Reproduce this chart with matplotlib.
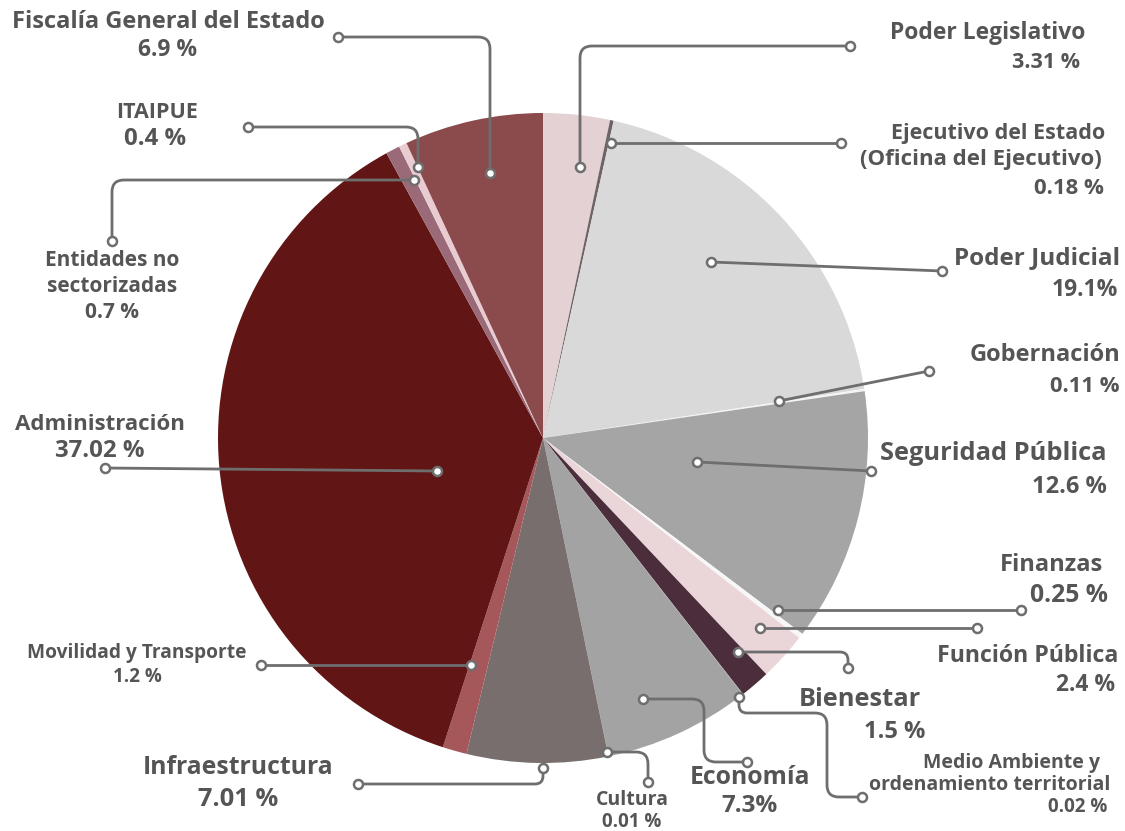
import matplotlib.pyplot as plt
from matplotlib.path import Path
from matplotlib.patches import PathPatch

# budget share by area (%), clockwise from the top
areas = ["Poder Legislativo", "Ejecutivo del Estado", "Poder Judicial", "Gobernación",
         "Seguridad Pública", "Finanzas", "Función Pública", "Bienestar",
         "Medio Ambiente", "Economía", "Cultura", "Infraestructura",
         "Movilidad y Transporte", "Administración", "Entidades no sectorizadas",
         "ITAIPUE", "Fiscalía General del Estado"]
shares = [3.31, 0.18, 19.1, 0.11, 12.6, 0.25, 2.4, 1.5, 0.02, 7.3, 0.01, 7.01,
          1.2, 37.02, 0.7, 0.4, 6.9]
colors = ["#e3d1d3", "#6e6465", "#d9d9d9", "#f4f4f4", "#a5a5a5", "#f7f7f7",
          "#ead6d9", "#4b2d3b", "#a5a5a5", "#a3a3a3", "#8a8080", "#786e6e",
          "#a5575a", "#621515", "#9a6a78", "#e8ccd2", "#8b4a4c"]

W, H = 1125, 831
TXT = "#555555"
LINE = "#6e6e6e"

fig = plt.figure(figsize=(W / 100, H / 100), dpi=100)
ax = fig.add_axes([0, 0, 1, 1])
ax.pie(shares, colors=colors, startangle=90, counterclock=False,
       center=(543, H - 438), radius=325, wedgeprops=dict(linewidth=0))
ax.set_xlim(0, W)
ax.set_ylim(0, H)
ax.set_aspect("equal")
ax.axis("off")


def leader(pts, r=12):
    # polyline in pixel coords (y down) with rounded corners and circle ends
    p = [(x, H - y) for x, y in pts]
    verts = [p[0]]
    codes = [Path.MOVETO]
    for i in range(1, len(p) - 1):
        (x0, y0), (x1, y1), (x2, y2) = p[i - 1], p[i], p[i + 1]
        d1 = ((x1 - x0) ** 2 + (y1 - y0) ** 2) ** 0.5
        d2 = ((x2 - x1) ** 2 + (y2 - y1) ** 2) ** 0.5
        rr = min(r, d1 / 2, d2 / 2)
        a = (x1 - (x1 - x0) / d1 * rr, y1 - (y1 - y0) / d1 * rr)
        b = (x1 + (x2 - x1) / d2 * rr, y1 + (y2 - y1) / d2 * rr)
        verts += [a, (x1, y1), b]
        codes += [Path.LINETO, Path.CURVE3, Path.CURVE3]
    verts.append(p[-1])
    codes.append(Path.LINETO)
    ax.add_patch(PathPatch(Path(verts, codes), fill=False, edgecolor=LINE,
                           linewidth=2, capstyle="round", zorder=3))
    for q in (p[0], p[-1]):
        ax.plot(*q, "o", ms=6.5, mfc="white", mec=LINE, mew=1.8, zorder=4)


leaders = [
    [(338, 37), (490, 37), (490, 173)],
    [(248, 127), (418, 127), (418, 167)],
    [(112, 241), (112, 180), (414, 180)],
    [(105, 468), (437, 471)],
    [(261, 665), (471, 665)],
    [(358, 784), (543, 784), (543, 768)],
    [(850, 46), (580, 46), (580, 167)],
    [(611, 143), (841, 143)],
    [(711, 262), (942, 271)],
    [(779, 401), (929, 371)],
    [(697, 462), (871, 471)],
    [(778, 610), (1021, 610)],
    [(760, 628), (977, 628)],
    [(738, 652), (848, 652), (848, 668)],
    [(739, 697), (739, 713), (827, 713), (827, 797), (862, 797)],
    [(643, 699), (704, 699), (704, 762), (747, 762)],
    [(607, 752), (648, 752), (648, 782)],
]
for pts in leaders:
    leader(pts)

# label text: (x, y, text, size, align)
labels = [
    (168, 22, "Fiscalía General del Estado", 17, "center"),
    (168, 50, "6.9 %", 16.5, "center"),
    (157, 112, "ITAIPUE", 15.5, "center"),
    (155, 139, "0.4 %", 17.3, "center"),
    (112, 260, "Entidades no", 15, "center"),
    (112, 286, "sectorizadas", 15, "center"),
    (112, 312, "0.7 %", 15, "center"),
    (100, 424, "Administración", 16, "center"),
    (100, 451, "37.02 %", 17.3, "center"),
    (137, 653, "Movilidad y Transporte", 13.8, "center"),
    (137, 677, "1.2 %", 13.5, "center"),
    (238, 768, "Infraestructura", 17.8, "center"),
    (238, 800, "7.01 %", 18.3, "center"),
    (632, 800, "Cultura", 14, "center"),
    (632, 822, "0.01 %", 13.5, "center"),
    (750, 778, "Economía", 17.8, "center"),
    (750, 806, "7.3%", 17.5, "center"),
    (1100, 763, "Medio Ambiente y", 14, "right"),
    (1110, 785, "ordenamiento territorial", 14, "right"),
    (1107, 807, "0.02 %", 13.5, "right"),
    (860, 700, "Bienestar", 18.3, "center"),
    (895, 732, "1.5 %", 17, "center"),
    (1118, 656, "Función Pública", 16.7, "right"),
    (1115, 685, "2.4 %", 16.5, "right"),
    (1103, 565, "Finanzas", 17, "right"),
    (1108, 595, "0.25 %", 17.8, "right"),
    (1107, 454, "Seguridad Pública", 18.3, "right"),
    (1107, 487, "12.6 %", 17, "right"),
    (1120, 355, "Gobernación", 17, "right"),
    (1120, 386, "0.11 %", 15.8, "right"),
    (1120, 258, "Poder Judicial", 17.5, "right"),
    (1118, 290, "19.1%", 16.5, "right"),
    (1105, 133, "Ejecutivo del Estado", 15.5, "right"),
    (1102, 160, "(Oficina del Ejecutivo)", 16, "right"),
    (1104, 188, "0.18 %", 16, "right"),
    (1085, 33, "Poder Legislativo", 16.5, "right"),
    (1080, 62, "3.31 %", 15.5, "right"),
]
for x, y, s, fs, ha in labels:
    ax.text(x, H - y, s, fontsize=fs, ha=ha, va="center", color=TXT,
            family="Open Sans", fontweight="bold")

fig.savefig("out.png", dpi=100, facecolor="white")
